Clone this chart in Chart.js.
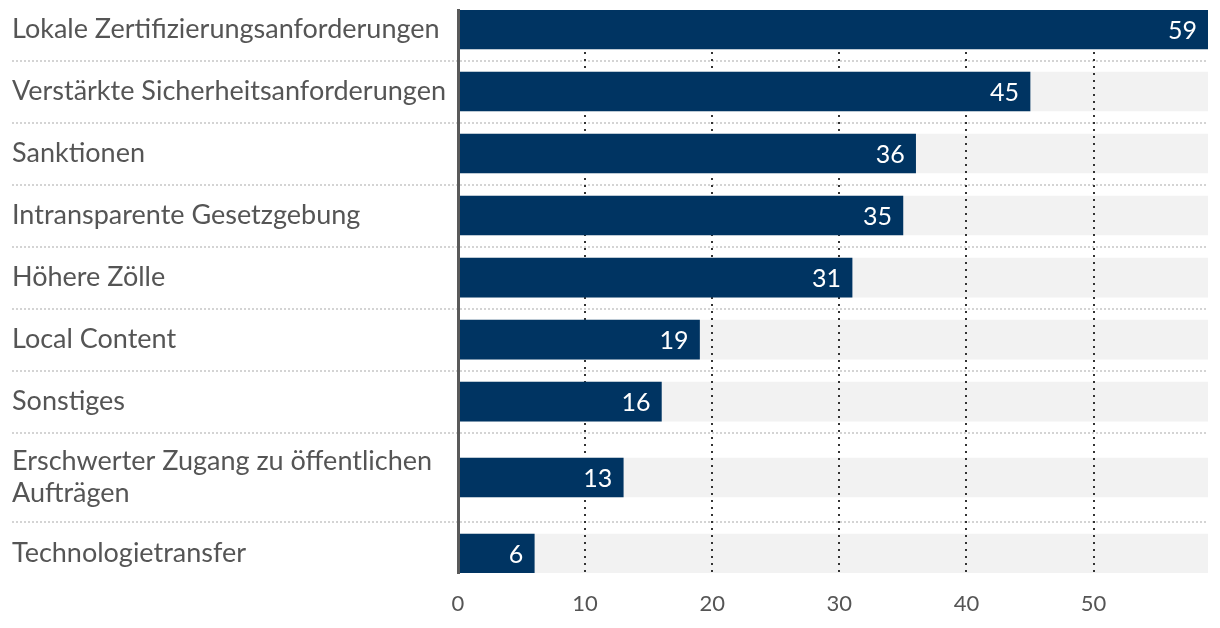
<!DOCTYPE html>
<html><head><meta charset="utf-8">
<script src="https://cdn.jsdelivr.net/npm/chart.js@4"></script>
<style>html,body{margin:0;padding:0;background:#fff}#wrap{width:1220px;height:628px;position:relative}</style>
</head><body><div id="wrap"><canvas id="c"></canvas></div>
<script>
const categories = [
  ["Lokale Zertifizierungsanforderungen"],
  ["Verstärkte Sicherheitsanforderungen"],
  ["Sanktionen"],
  ["Intransparente Gesetzgebung"],
  ["Höhere Zölle"],
  ["Local Content"],
  ["Sonstiges"],
  ["Erschwerter Zugang zu öffentlichen", "Aufträgen"],
  ["Technologietransfer"]
];
const values = [59, 45, 36, 35, 31, 19, 16, 13, 6];
const xTicks = [0, 10, 20, 30, 40, 50];

const FONT = "Lato, 'Noto Sans', sans-serif";
const TEXT = '#555555';
const BLUE = '#003462';
const TRACK = '#f2f2f2';

// row layout derived from number of label lines
const EXTRA = 0.45, HALF = 0.315;
let acc = 0; const centers = [], bounds = [];
categories.forEach(c => { const h = 1 + EXTRA * (c.length - 1); centers.push(acc + h / 2); acc += h; bounds.push(acc); });
bounds.pop();
const yMin = centers[0] - HALF, yMax = centers[centers.length - 1] + HALF;
const xMax = Math.max(...values);

const gridPlugin = {
  id: 'custom',
  beforeDatasetsDraw(chart) {
    const {ctx, scales: {x, y}} = chart;
    ctx.save();
    ctx.strokeStyle = '#d4d4d4'; ctx.lineWidth = 2; ctx.setLineDash([2, 2]);
    bounds.forEach(b => {
      const py = Math.round(y.getPixelForValue(b));
      ctx.beginPath(); ctx.moveTo(12, py); ctx.lineTo(x.right, py); ctx.stroke();
    });
    ctx.restore();
  },
  afterDatasetDraw(chart, args) {
    if (args.index !== 1) return;
    const {ctx, chartArea, scales: {x}} = chart;
    ctx.save();
    ctx.strokeStyle = '#333333'; ctx.lineWidth = 2; ctx.setLineDash([2, 5]);
    xTicks.forEach(t => {
      if (t === 0) return;
      const px = Math.round(x.getPixelForValue(t));
      ctx.beginPath(); ctx.moveTo(px, chartArea.top); ctx.lineTo(px, chartArea.bottom); ctx.stroke();
    });
    ctx.restore();
  },
  afterDatasetsDraw(chart) {
    const {ctx} = chart;
    const meta = chart.getDatasetMeta(0);
    ctx.save();
    ctx.fillStyle = '#ffffff';
    ctx.font = "25px " + FONT;
    ctx.textAlign = 'right'; ctx.textBaseline = 'middle';
    meta.data.forEach((bar, i) => { ctx.fillText(String(values[i]), bar.x - 11, bar.y + 1); });
    ctx.restore();
  }
};

new Chart(document.getElementById('c'), {
  type: 'bar',
  data: {
    datasets: [
      { data: values.map((v, i) => ({x: v, y: centers[i]})), backgroundColor: BLUE, barThickness: 39, grouped: false },
      { data: values.map((v, i) => ({x: xMax, y: centers[i]})), backgroundColor: TRACK, barThickness: 39, grouped: false }
    ]
  },
  options: {
    indexAxis: 'y',
    responsive: true, maintainAspectRatio: false, animation: false,
    layout: { padding: { left: 12, right: 12, top: 10, bottom: 0 } },
    plugins: { legend: { display: false }, tooltip: { enabled: false } },
    scales: {
      x: {
        type: 'linear', min: 0, max: xMax,
        grid: { display: false, drawTicks: false },
        border: { display: false },
        afterBuildTicks(s) { s.ticks = xTicks.map(v => ({value: v})); },
        afterFit(s) { s.height = 55; },
        ticks: { color: TEXT, font: { family: FONT, size: 22 }, padding: 18 }
      },
      y: {
        type: 'linear', min: yMin, max: yMax, reverse: true, offset: false,
        grid: { display: false, drawTicks: false, offset: false },
        border: { display: true, color: '#5a5a5a', width: 3, z: 1 },
        afterBuildTicks(s) { s.ticks = centers.map(v => ({value: v})); },
        afterFit(s) { s.width = 446; s.paddingTop = 0; s.paddingBottom = 0; },
        ticks: {
          autoSkip: false, crossAlign: 'far', color: TEXT, padding: 0,
          font: { family: FONT, size: 27, lineHeight: 1.18 },
          callback: (v, i) => categories[i]
        }
      }
    }
  },
  plugins: [gridPlugin]
});
</script>
</body></html>
